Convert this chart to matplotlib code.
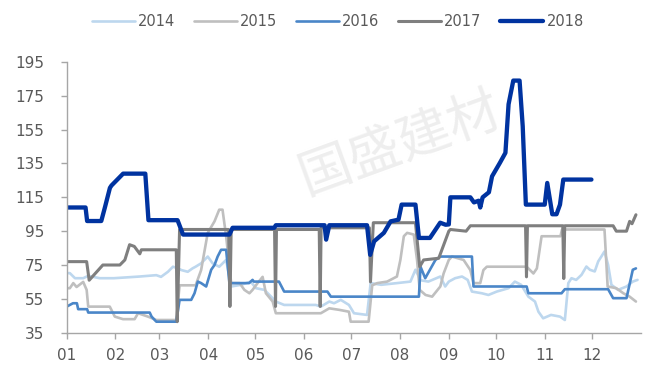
import matplotlib
matplotlib.use("Agg")
import matplotlib.pyplot as plt

# Day-of-year (0 = Jan 1) and index value for each year
series_2014 = [(0, 70.2), (2, 70.2), (5.3, 67.2), (10.5, 67.2), (13.7, 68.6), (21, 67.2), (30, 67.2),
               (40, 67.8), (46.5, 68.2), (57, 69), (60, 68), (64.4, 71), (67.6, 74), (70.8, 73),
               (73, 72), (77, 71), (80, 73), (82, 74), (85.5, 76), (89.7, 80), (92.8, 76), (97, 74),
               (101.4, 78), (104.6, 62.3), (111, 63.3), (117, 65.2), (120.4, 61.3), (125.7, 60.3),
               (130, 56.3), (133, 53.4), (138.3, 51.4), (158.4, 51.4), (161.6, 50.4), (167, 53.4),
               (170, 52.4), (174.3, 54.4), (179.5, 51.4), (182.7, 46.5), (191, 45.5), (193.3, 64.3),
               (200, 63.3), (210, 64.3), (218.6, 65.2), (221.8, 72.2), (225, 66), (230, 65.2),
               (237.6, 68.2), (240.7, 62.3), (243, 65.2), (247, 67.2), (251.4, 68.2), (255, 66.2),
               (257.7, 59.3), (264, 58.3), (268.2, 57.3), (273.5, 59.3), (281, 61.3), (285, 65.2),
               (289, 63.3), (293.6, 56.3), (297.8, 53.4), (300, 47.4), (303, 43.5), (308, 45.5),
               (313.7, 44.5), (316.8, 42.5), (319, 64.3), (321, 67.2), (324, 66.2), (327.4, 69.2),
               (330.5, 74.1), (332.7, 72.2), (335.8, 71.2), (338, 77.1), (340, 80), (342, 83),
               (344.3, 75.1), (346.4, 63.3), (350.6, 60.3), (356, 62.3), (360, 65.2), (363, 66.2)]

series_2015 = [(0, 61.3), (2, 61.3), (4.2, 64.3), (6.3, 62), (10.5, 65), (12.7, 60.3), (13.7, 50.4),
               (27.4, 50.4), (30.6, 44.5), (35.8, 43), (43.2, 43), (45.4, 46.5), (51.7, 44.5),
               (57, 42.5), (69.7, 42.5), (71.8, 63), (82, 63), (85.5, 72), (89.7, 94), (94, 100.8),
               (97, 107.7), (99.1, 107.7), (101.4, 92), (104.6, 64.3), (110, 64.3), (113, 60.3),
               (116.2, 58.3), (118.2, 60.3), (121.4, 64.3), (124.6, 68), (126.7, 58.3), (131, 53.4),
               (133, 46.5), (161.6, 46.5), (167, 49.4), (173.3, 48.5), (179.5, 47.4), (180.6, 41.5),
               (192, 41.5), (194.3, 63), (197.5, 64.3), (203.8, 65.2), (210, 68.2), (212.2, 78),
               (214.4, 92), (216.5, 94), (220.7, 93), (222.8, 78), (224.5, 60.3), (228.2, 57.3),
               (232.4, 56.3), (237.6, 62.3), (239.7, 70), (243, 78), (245, 80), (252.4, 78),
               (256.7, 72), (258.7, 64.3), (263, 64.3), (265, 72), (267.2, 74), (292.5, 74),
               (296.8, 70), (299, 73), (302, 92), (314, 92), (315, 96), (342, 96), (344, 62.3),
               (349.5, 61.3), (354, 58.3), (358, 56.3), (362, 53.4)]

series_2016 = [(0, 50.4), (4, 52.4), (6.5, 52.4), (7.3, 48.9), (13, 48.9), (13.7, 46.9), (52.8, 46.9),
               (54, 44.5), (57, 41.5), (69.7, 41.5), (71.8, 54.4), (79.2, 54.4), (81.3, 58.3),
               (83.4, 65.2), (85.5, 64.3), (88.7, 62.3), (91.9, 72.2), (94, 75), (96, 80), (98.2, 84),
               (101.4, 84), (103.5, 64.3), (116, 64.3), (118.2, 66.2), (119, 65.2), (135, 65.2),
               (138.3, 59.3), (165.8, 59.3), (168, 56.3), (224, 56.3), (225, 74), (228, 67.2),
               (231, 72.2), (234.5, 78), (237.6, 80), (257.7, 80), (258.7, 62.3), (292.5, 62.3),
               (293.6, 58.3), (314.7, 58.3), (316.8, 60.7), (344.3, 60.7), (347.5, 55.4), (356, 55.4),
               (360, 72.2), (362, 73)]

series_2017 = [(0, 77), (12.7, 77), (14.3, 66), (23, 75), (33.8, 75), (37, 78), (40, 87), (43, 86),
               (46.5, 81.6), (47.5, 84), (69.7, 84), (70.3, 41.5), (71.8, 96), (103, 96), (103.8, 50.5),
               (104.6, 96), (132.2, 96), (132.8, 50.5), (133.4, 96), (160.6, 96), (161.2, 50.5),
               (161.8, 97), (192.5, 97), (193.2, 65), (195, 100), (221.8, 100), (224.5, 74), (227, 78),
               (236.6, 79), (243, 95), (244, 96), (254, 95), (256.7, 98.2), (291.8, 98.2), (292.4, 68),
               (293, 98.2), (315.5, 98.2), (316.1, 67), (316.7, 98.2), (347.5, 98.2), (349.5, 95),
               (356, 95), (358, 100.8), (359.5, 99.4), (362, 104.7)]

series_2018 = [(0, 109), (12, 109), (13, 101), (22, 101), (24.3, 109), (27.5, 120.6), (28.5, 122),
               (35.9, 129), (50, 129), (52, 101.5), (70.5, 101.5), (74, 93), (103.5, 93), (105.5, 97),
               (132, 97), (133, 98.5), (164, 98.5), (165, 90), (167, 98.5), (191, 98.5), (193, 81),
               (195.5, 89), (201.7, 94), (206, 100.8), (211, 101.8), (213, 110.7), (221.8, 110.7),
               (224, 91), (231, 91), (237.5, 100), (241, 98.8), (243, 99), (244, 115), (256.7, 115),
               (259, 112), (262, 113), (263, 109), (264.5, 115), (268.5, 118), (270.5, 127.4),
               (275.5, 135.4), (279, 141.3), (281, 170), (284, 184), (288, 184), (290, 157),
               (292, 110.7), (304, 110.7), (305.6, 123.5), (308.8, 105), (311.5, 105), (313.7, 110.7),
               (315.8, 125.5), (333.7, 125.5)]

years = ["2014", "2015", "2016", "2017", "2018"]
colors = ["#BDD7EE", "#BFBFBF", "#4A86C8", "#7F7F7F", "#0033A0"]
widths = [1.9, 1.9, 1.9, 2.2, 3.1]

month_starts = [0, 31, 59, 90, 120, 151, 181, 212, 243, 273, 304, 334]
month_labels = ["01", "02", "03", "04", "05", "06", "07", "08", "09", "10", "11", "12"]
y_ticks = [35, 55, 75, 95, 115, 135, 155, 175, 195]

plt.rcParams["font.family"] = ["DejaVu Sans"]

fig = plt.figure(figsize=(6.55, 3.67), dpi=100)
ax = fig.add_axes([0.1018, 0.0935, 0.8763, 0.7376])

# watermark behind the data
ax.text(0.58, 0.70, "国盛建材", transform=ax.transAxes, rotation=20, fontsize=38,
        color="#EEEEEE", ha="center", va="center", zorder=0,
        family=["Noto Sans CJK SC", "DejaVu Sans"])

for data, label, c, lw in zip([series_2014, series_2015, series_2016, series_2017, series_2018],
                              years, colors, widths):
    xs = [p[0] for p in data]
    ys = [p[1] for p in data]
    ax.plot(xs, ys, color=c, lw=lw, label=label, solid_joinstyle="round",
            solid_capstyle="round", zorder=2)

ax.set_xlim(0, 365)
ax.set_ylim(35, 195)
ax.set_xticks(month_starts)
ax.set_xticklabels(month_labels)
ax.set_yticks(y_ticks)

for side in ("top", "right"):
    ax.spines[side].set_visible(False)
for side in ("left", "bottom"):
    ax.spines[side].set_color("#A6A6A6")
    ax.spines[side].set_linewidth(1.0)

ax.tick_params(axis="both", colors="#A6A6A6", labelcolor="#595959", labelsize=11,
               length=4, width=1.0, direction="out")
ax.tick_params(axis="y", pad=12)
ax.tick_params(axis="x", pad=7)

fig.legend(loc="center", bbox_to_anchor=(0.5156, 0.9414), ncol=5, frameon=False,
           fontsize=10.5, handlelength=2.95, handletextpad=0.2, columnspacing=1.3,
           labelcolor="#595959", borderpad=0.0)

fig.savefig("out.png", dpi=100)
